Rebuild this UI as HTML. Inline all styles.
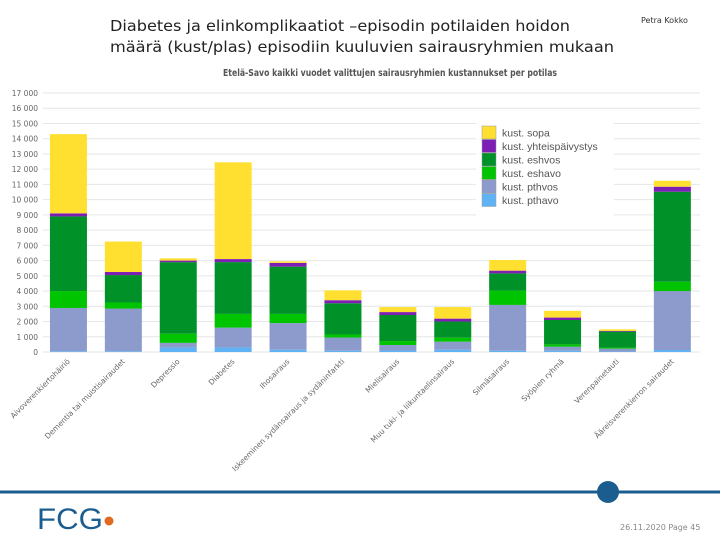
<!DOCTYPE html>
<html><head><meta charset="utf-8"><style>
html,body{margin:0;padding:0;background:#fff;}
svg{display:block;font-family:"DejaVu Sans","Liberation Sans",sans-serif;}
</style></head><body>
<svg id="chart" width="720" height="540" viewBox="0 0 720 540" xmlns="http://www.w3.org/2000/svg">
<text x="110" y="31" font-size="15" fill="#222" textLength="460" lengthAdjust="spacingAndGlyphs">Diabetes ja elinkomplikaatiot –episodin potilaiden hoidon</text>
<text x="110" y="52" font-size="15" fill="#222" textLength="504" lengthAdjust="spacingAndGlyphs">määrä (kust/plas) episodiin kuuluvien sairausryhmien mukaan</text>
<text x="641" y="23" font-size="8" fill="#333">Petra Kokko</text>
<text x="390" y="76" font-size="9.5" font-weight="bold" fill="#555" text-anchor="middle" textLength="334" lengthAdjust="spacingAndGlyphs">Etelä-Savo kaikki vuodet valittujen sairausryhmien kustannukset per potilas</text>
<g id="grid"></g><g id="bars"></g><g id="xlabels"></g>
<g id="legend"></g>
<line x1="0" y1="492" x2="720" y2="492" stroke="#1c5d8f" stroke-width="3"/>
<circle cx="608" cy="492" r="11" fill="#1c5d8f"/>
<text x="37" y="529" font-size="30" fill="#1c5d8f" font-family="Liberation Sans, sans-serif" textLength="66" lengthAdjust="spacingAndGlyphs">FCG</text>
<circle cx="109" cy="521" r="4.5" fill="#e06a1f"/>
<text x="620" y="530" font-size="8" fill="#888">26.11.2020  Page 45</text>
</svg>
<script>
const categories=["Aivoverenkiertohäiriö","Dementia tai muistisairaudet","Depressio","Diabetes","Ihosairaus","Iskeeminen sydänsairaus ja sydäninfarkti","Mielisairaus","Muu tuki- ja liikuntaelinsairaus","Silmäsairaus","Syöpien ryhmä","Verenpainetauti","Ääreisverenkierron sairaudet"];
const seriesNames=["kust. pthavo","kust. pthvos","kust. eshavo","kust. eshvos","kust. yhteispäivystys","kust. sopa"];
const pthavo=[50,50,300,300,150,80,100,150,80,80,30,130];
const pthvos=[2840,2800,300,1300,1750,870,360,530,3010,270,190,3870];
const eshavo=[1110,400,600,900,600,200,260,260,940,150,70,610];
const eshvos=[4900,1800,4700,3400,3100,2050,1710,1060,1130,1600,1050,5910];
const yhteis=[200,200,100,200,250,200,190,190,180,160,40,330];
const sopa=[5200,2000,150,6350,100,650,330,760,700,440,110,390];
const yTicks=[0,1000,2000,3000,4000,5000,6000,7000,8000,9000,10000,11000,12000,13000,14000,15000,16000,17000];
const colors=["#5fb3f5","#8c9bcc","#00c400","#009128","#7d1fb5","#ffe031"];
const NS="http://www.w3.org/2000/svg";
const X0=41,BW=54.9,Y0=352,YMAX=17000,PH=259;
const y=v=>Y0-v/YMAX*PH;
const x=i=>X0+BW*i+BW/2;
function mk(t,a,p){const e=document.createElementNS(NS,t);for(const k in a)e.setAttribute(k,a[k]);p.appendChild(e);return e;}
const grid=document.getElementById('grid');
yTicks.forEach(v=>{
 const l=mk('line',{x1:43,x2:700,y1:y(v),y2:y(v),stroke:'#e6e6e6','stroke-width':1},grid);
 
 
 const t=mk('text',{x:38,y:y(v)+3,'font-size':7.5,fill:'#666','text-anchor':'end'},grid);
 t.textContent=v===0?"0":(v/1000)+" 000";
 
 
});
const series=[pthavo,pthvos,eshavo,eshvos,yhteis,sopa];
const bars=document.getElementById('bars');
categories.forEach((c,i)=>{
 let acc=0;
 series.forEach((s,j)=>{
  const r=mk('rect',{x:x(i)-18.5,width:37,y:y(acc+s[i]),height:y(acc)-y(acc+s[i]),fill:colors[j]},bars);
  
  
  acc+=s[i];
 });
 const t=mk('text',{x:0,y:0,'font-size':7.5,fill:'#666','text-anchor':'end',transform:`translate(${x(i)+2},${362}) rotate(-45)`},document.getElementById('xlabels'));
 t.textContent=c;
 
 
});
const lg=document.getElementById('legend');
mk('rect',{x:476,y:120,width:138,height:96,fill:'#fff'},lg);
for(let k=0;k<6;k++){
 const j=5-k;const yy=126+k*13.5;
 const r=mk('rect',{x:482,y:yy,width:14,height:13,fill:colors[j],stroke:'#999','stroke-width':0.5},lg);
 
 
 const t=mk('text',{x:502,y:yy+10.5,'font-size':10.5,fill:'#555','font-family':'Liberation Sans, sans-serif'},lg);
 t.textContent=seriesNames[j];
 
 
}
</script>
</body></html>
